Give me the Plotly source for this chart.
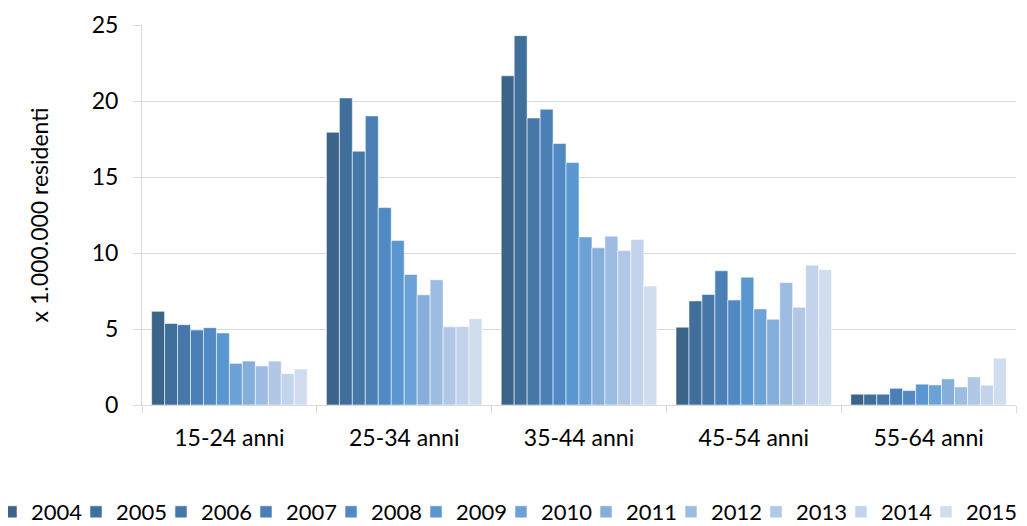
import plotly.graph_objects as go

categories = ["15-24 anni", "25-34 anni", "35-44 anni", "45-54 anni", "55-64 anni"]
years = ["2004", "2005", "2006", "2007", "2008", "2009", "2010", "2011", "2012", "2013", "2014", "2015"]

v2004 = [6.16, 17.94, 21.66, 5.12, 0.71]
v2005 = [5.37, 20.20, 24.30, 6.85, 0.71]
v2006 = [5.28, 16.70, 18.88, 7.27, 0.71]
v2007 = [4.93, 19.02, 19.46, 8.83, 1.10]
v2008 = [5.09, 12.99, 17.21, 6.91, 0.95]
v2009 = [4.74, 10.83, 15.95, 8.41, 1.37]
v2010 = [2.74, 8.59, 11.06, 6.32, 1.32]
v2011 = [2.89, 7.25, 10.34, 5.64, 1.72]
v2012 = [2.57, 8.24, 11.11, 8.06, 1.19]
v2013 = [2.89, 5.14, 10.16, 6.43, 1.85]
v2014 = [2.06, 5.16, 10.89, 9.20, 1.30]
v2015 = [2.37, 5.68, 7.83, 8.90, 3.08]

series = [v2004, v2005, v2006, v2007, v2008, v2009, v2010, v2011, v2012, v2013, v2014, v2015]
colors = ["#3b6488", "#3f6f9a", "#4577a8", "#4a80b6", "#5089c3", "#5a97d0",
          "#6ca2d7", "#86aedb", "#9dbce2", "#b0c7e6", "#c2d3eb", "#d0ddee"]

FONT = "Lato"
# page is rendered with an 8px body margin, so the figure is 8px smaller
W, H = 1019, 518
L, T, R, B = 134, 17, 11, 121
plot_w = W - L - R
plot_h = H - T - B

# legend layout: one single-entry legend per year, laid out in a row
LEG_TEXT_START = 25      # figure px of first legend label
LEG_STEP = 85.0          # px between legend entries
LEG_CENTER_Y = 504       # figure px of legend row centre
leg_y = -(LEG_CENTER_Y - (H - B)) / plot_h

fig = go.Figure()
legend_layouts = {}
for i, (yr, vals, col) in enumerate(zip(years, series, colors)):
    key = "legend" if i == 0 else f"legend{i + 1}"
    fig.add_trace(go.Bar(
        name=yr, x=categories, y=vals, showlegend=True,
        marker=dict(color=col, line=dict(color="rgba(255,255,255,0.55)", width=1)),
        legend=key,
    ))
    x_fig = LEG_TEXT_START + LEG_STEP * i - 42
    legend_layouts[key] = dict(
        orientation="h", xref="paper", yref="paper", xanchor="left",
        x=(x_fig - L) / plot_w, y=leg_y, yanchor="middle",
        font=dict(family=FONT, size=22, color="#000000"),
        itemclick=False, bgcolor="rgba(0,0,0,0)", borderwidth=0,
        visible=True,
    )

fig.update_layout(
    width=W, height=H, showlegend=True,
    barmode="group", bargap=0.11, bargroupgap=0,
    plot_bgcolor="white", paper_bgcolor="white",
    margin=dict(l=L, r=R, t=T, b=B, autoexpand=False),
    font=dict(family=FONT, color="#000000"),
    xaxis=dict(
        showgrid=False, showline=True, linecolor="#d9d9d9", linewidth=1,
        ticks="outside", tickson="boundaries", ticklen=7, tickcolor="#d9d9d9",
        tickfont=dict(family=FONT, size=23, color="#000000"),
        ticklabelstandoff=12,
    ),
    yaxis=dict(
        range=[0, 25], dtick=5, showgrid=True, gridcolor="#d9d9d9", gridwidth=1,
        showline=True, linecolor="#d9d9d9", linewidth=1,
        ticks="outside", ticklen=8, tickcolor="#d9d9d9",
        tickfont=dict(family=FONT, size=23, color="#000000"),
        ticklabelstandoff=10, zeroline=False,
        title=dict(text="x 1.000.000 residenti", font=dict(family=FONT, size=23, color="#000000"), standoff=36),
    ),
    **legend_layouts,
)

fig.write_html("out.html")
